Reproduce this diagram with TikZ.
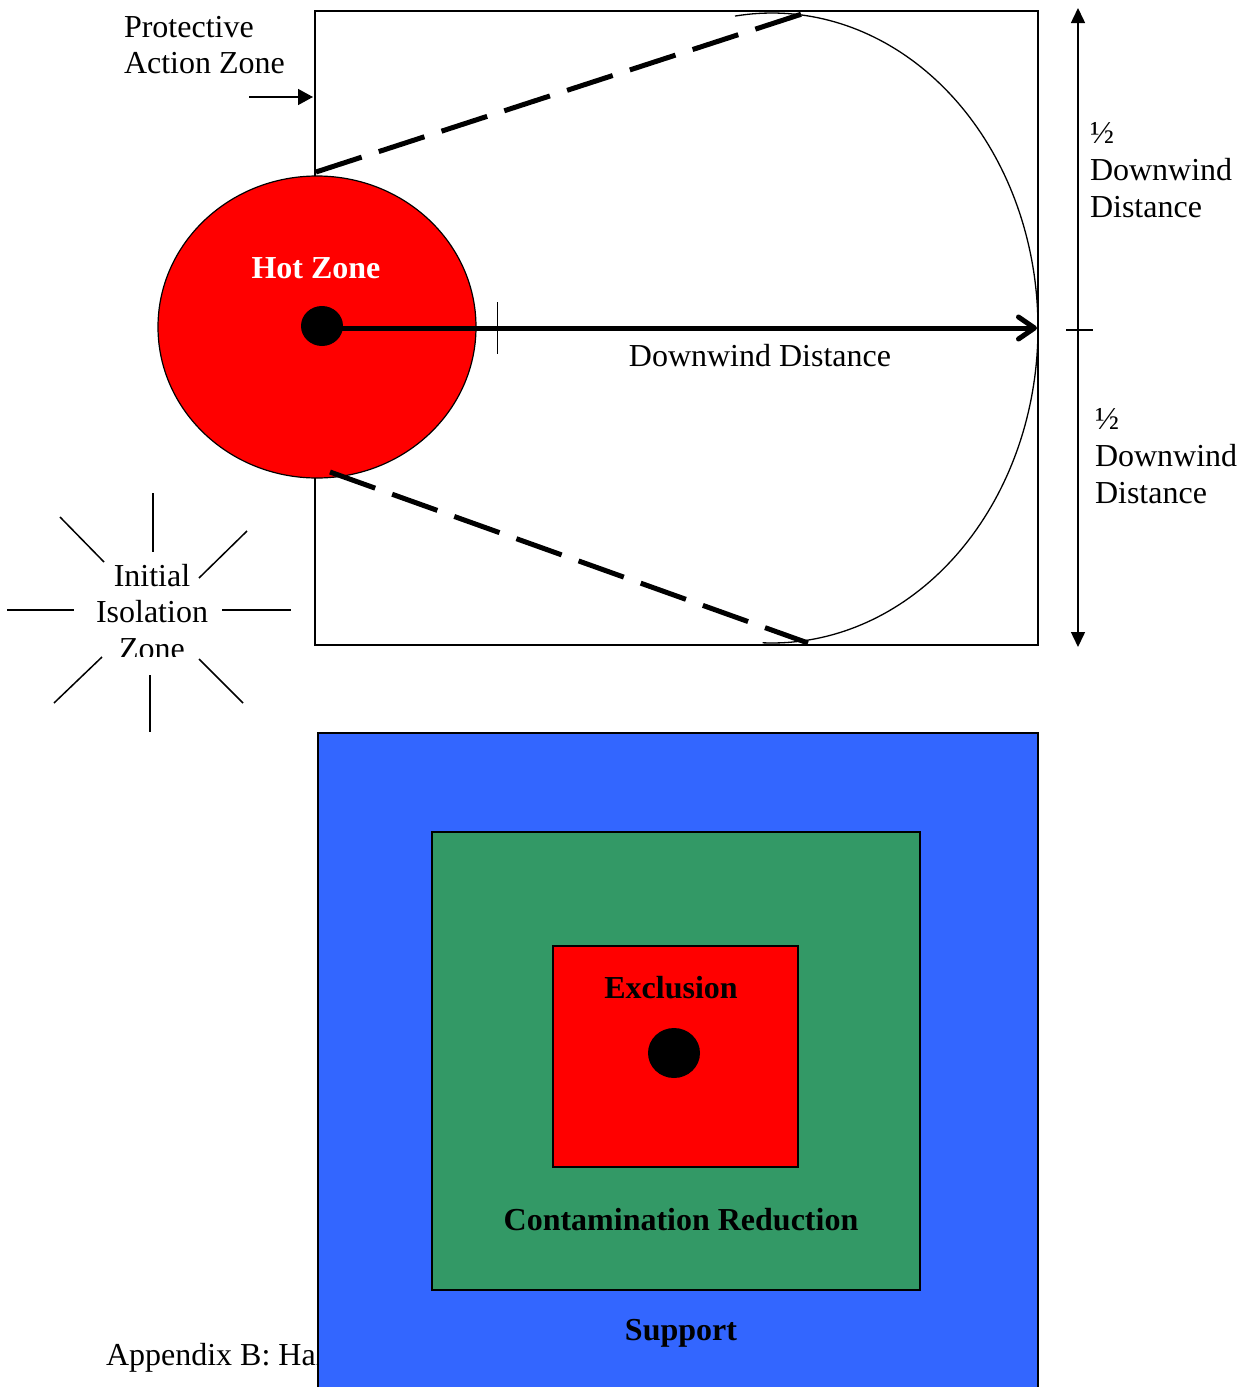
\documentclass[tikz,border=0pt]{standalone}
\usepackage{fontspec}
\setmainfont{Liberation Serif}
\usetikzlibrary{arrows.meta}
\definecolor{hotred}{HTML}{FF0000}
\definecolor{supportblue}{HTML}{3366FF}
\definecolor{reductgreen}{HTML}{339966}
\begin{document}
\begin{tikzpicture}[x=1pt,y=-1pt,
  font=\fontsize{32}{36.5}\selectfont,
  thinline/.style={line width=1.3pt},
  zonedash/.style={line width=5pt, dash pattern=on 48pt off 18pt},
  ray/.style={line width=1.5pt},
  lbl/.style={inner sep=0pt, outer sep=0pt},
  boldlbl/.style={lbl, font=\fontsize{32}{36.5}\selectfont\bfseries},
  zonebox/.style={draw=black, line width=1.3pt}]
\useasboundingbox (0,0) rectangle (1241,1387);
\fill[white] (0,0) rectangle (1241,1387);

% ---------- Protective action zone ----------
\draw[thinline] (315,11) rectangle (1038,645);
\draw[thinline] plot[domain=98:-92,samples=150] ({772+266*cos(\x)},{328-315*sin(\x)});

% hot zone
\draw[fill=hotred, line width=1.2pt] (317,327) ellipse [x radius=159pt, y radius=151pt];
\draw[line width=1pt] (497,302) -- (497,354);

% dashed plume edges
\coordinate (dTopS) at (316,172);
\coordinate (dTopE) at (805,13);
\coordinate (dBotS) at (330,472);
\coordinate (dBotE) at (808,643);
\draw[zonedash] (dTopS) -- (dTopE);
\draw[zonedash] (dBotS) -- (dBotE);

% source and downwind arrow
\fill (322,326) ellipse [x radius=21pt, y radius=20pt];
\coordinate (src) at (322,328);
\coordinate (dwEnd) at (1037,328);
\draw[line width=5pt, -{Straight Barb[length=16pt,width=22pt,line cap=round,line join=round]}] (src) -- (dwEnd);

\node[lbl, anchor=base] (dwlabel) at (760,366) {Downwind Distance};
\node[boldlbl, anchor=base, text=white] (hotlabel) at (316,278) {Hot Zone};

% right dimension arrow
\coordinate (vTop) at (1078,8);
\coordinate (vBot) at (1078,647);
\coordinate (tickL) at (1066,330);
\coordinate (tickR) at (1093,330);
\draw[line width=1.5pt, {Triangle[length=15pt,width=14pt]}-{Triangle[length=15pt,width=14pt]}] (vTop) -- (vBot);
\draw[line width=1.5pt] (tickL) -- (tickR);

\node[lbl, anchor=base west] (halfA) at (1090,143) {½};
\node[lbl, anchor=base west] (dwA) at (1090,180) {Downwind};
\node[lbl, anchor=base west] (distA) at (1090,217) {Distance};
\node[lbl, anchor=base west] (halfB) at (1095,429) {½};
\node[lbl, anchor=base west] (dwB) at (1095,466) {Downwind};
\node[lbl, anchor=base west] (distB) at (1095,503) {Distance};

% protective action zone label
\node[lbl, anchor=base west] (pazA) at (124,37) {Protective};
\node[lbl, anchor=base west] (pazB) at (124,73) {Action Zone};
\coordinate (pazArrS) at (249,97);
\coordinate (pazArrE) at (313,97);
\draw[line width=1.5pt, -{Triangle[length=15pt,width=16pt]}] (pazArrS) -- (pazArrE);

% initial isolation zone
\begin{scope}
  \clip (0,540) rectangle (310,656);
  \node[lbl, anchor=base] (iizA) at (152,586) {Initial};
  \node[lbl, anchor=base] (iizB) at (152,622.5) {Isolation};
  \node[lbl, anchor=base] (iizC) at (152,659) {Zone};
\end{scope}
\draw[ray] (153,493) -- (153,552);
\draw[ray] (60,517) -- (104,562);
\draw[ray] (247,531) -- (199,578);
\draw[ray] (7,610) -- (74,610);
\draw[ray] (222,610) -- (291,610);
\draw[ray] (102,657) -- (54,703);
\draw[ray] (150,675) -- (150,732);
\draw[ray] (199,659) -- (243,703);

% ---------- Work zones ----------
\node[lbl, anchor=base west] (appendix) at (106,1365) {Appendix B: Haz};
\draw[zonebox, fill=supportblue] (318,733) rectangle (1038,1395);
\draw[zonebox, fill=reductgreen] (432,832) rectangle (920,1290);
\draw[zonebox, fill=hotred] (553,946) rectangle (798,1167);
\fill (674,1053) ellipse [x radius=26pt, y radius=25pt];

\node[boldlbl, anchor=base] (excl) at (671,998) {Exclusion};
\node[boldlbl, anchor=base] (contam) at (681,1230) {Contamination Reduction};
\node[boldlbl, anchor=base] (support) at (681,1340) {Support};
\end{tikzpicture}
\end{document}
